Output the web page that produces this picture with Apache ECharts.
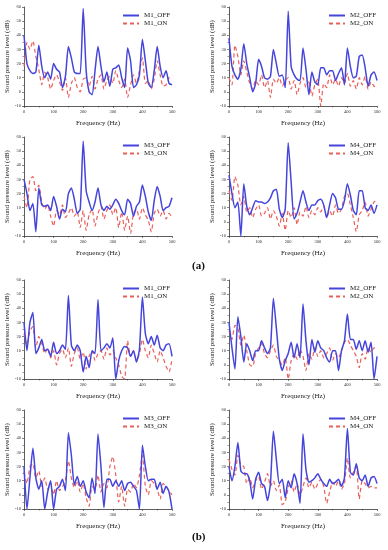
<!DOCTYPE html>
<html><head><meta charset="utf-8">
<script src="https://cdn.jsdelivr.net/npm/echarts@6/dist/echarts.min.js"></script>
<style>html,body{margin:0;padding:0;background:#fff}#c{width:388px;height:550px}</style>
</head><body><div id="c"></div>
<script>
const freq = [0,10,20,30,40,50,60,70,80,90,100,110,120,130,140,150,160,170,180,190,200,210,220,230,240,250,260,270,280,290,300,310,320,330,340,350,360,370,380,390,400,410,420,430,440,450,460,470,480,490,500];
const xTicks = ['0','100','200','300','400','500'];
const yTicks = ['-10','0','10','20','30','40','50','60'];

// (a) panels
const a_M1_OFF = [40,20,15,13,14,33,18,10,14,9,20,16,14,3,11,32,24,14,13,13,59,15,0,-2,15,32,18,7,14,4,16,17,19,10,3,31,22,3,5,12,37,22,6,3,15,32,18,10,15,6,5];
const a_M1_ON  = [18,35,30,36,25,16,5,14,10,2,8,12,7,1,10,-4,6,10,3,0,9,10,4,11,2,9,12,2,8,11,6,15,8,3,9,-4,5,12,6,15,24,6,8,2,9,22,12,4,5,10,12];
const a_M2_OFF = [38,18,12,9,16,34,20,10,0,6,23,18,10,9,11,30,20,11,12,3,57,18,12,9,8,31,16,-2,14,7,5,17,17,12,15,15,8,13,17,5,31,18,10,11,25,26,17,4,12,14,8];
const a_M2_ON  = [10,5,33,25,12,22,14,6,2,8,5,12,3,8,-4,9,6,10,4,8,10,2,8,-2,6,10,3,8,-3,5,9,-10,6,3,12,5,9,4,10,6,13,4,8,2,10,5,11,2,7,4,3];
const a_M3_OFF = [30,20,8,13,-7,24,12,11,12,8,18,11,2,9,7,20,24,16,6,9,57,22,14,8,14,24,12,8,11,9,12,16,13,8,5,16,13,4,11,14,26,18,7,1,15,25,18,8,10,11,17];
const a_M3_ON  = [18,10,30,32,22,26,14,9,12,4,-3,8,5,12,3,6,10,4,7,-4,8,-6,5,9,-3,6,11,2,8,12,5,10,-4,7,-6,4,-8,6,9,2,10,5,1,-7,6,9,4,8,2,6,3];
const a_M4_OFF = [33,20,10,14,-10,27,11,5,10,15,14,14,13,14,17,22,23,9,3,9,56,28,2,6,14,22,14,8,12,12,15,16,12,3,12,20,17,9,9,15,27,19,8,5,22,22,10,8,12,6,12];
const a_M4_ON  = [22,15,32,26,12,18,7,10,3,9,12,4,6,10,2,8,4,-3,6,-6,8,3,10,-2,7,4,11,3,8,5,10,7,11,3,8,4,12,6,9,18,20,12,3,-7,5,8,14,4,9,14,16];
// (b) panels
const b_M1_OFF = [30,10,30,37,8,12,18,10,11,6,16,8,10,14,11,49,14,10,14,10,-5,6,-2,10,8,46,10,12,15,12,19,-10,3,10,13,12,6,10,2,11,48,22,15,20,14,21,12,10,14,15,6];
const b_M1_ON  = [22,14,24,27,12,20,15,8,12,5,10,0,8,11,5,12,-1,8,12,4,9,-3,6,10,3,8,10,4,12,7,10,5,0,-8,-10,17,6,10,3,8,18,10,5,14,8,2,10,5,-1,-5,4];
const b_M2_OFF = [30,12,-3,34,20,2,15,10,3,10,10,17,12,8,12,47,26,4,-4,3,8,16,5,15,5,43,17,0,18,9,17,12,10,5,2,10,10,-4,10,17,36,18,18,11,17,10,17,9,16,-10,6];
const b_M2_ON  = [24,18,28,26,14,21,10,0,-1,8,12,15,8,5,10,14,6,3,0,5,-10,3,8,4,11,6,-4,8,4,12,6,10,5,8,12,3,8,5,10,16,18,14,10,6,-2,8,4,12,9,12,12];
const b_M3_OFF = [20,-10,12,33,12,4,10,-10,2,10,-10,4,6,11,3,44,28,7,13,6,10,2,-2,12,1,43,20,-9,11,11,6,10,6,10,3,8,9,6,3,-10,35,20,10,11,11,4,9,1,6,2,-10];
const b_M3_ON  = [16,8,20,22,12,17,6,12,4,8,0,10,3,6,10,24,12,5,10,2,8,-2,-8,6,4,14,2,8,5,20,27,14,-5,6,-8,4,2,8,5,14,28,6,0,10,8,4,-3,8,6,3,0];
const b_M4_OFF = [20,10,20,37,17,15,15,10,-3,11,16,8,6,-4,8,45,25,8,11,-2,10,5,15,8,-6,43,18,9,10,12,15,11,8,6,11,8,9,11,6,12,47,16,14,22,12,10,14,6,12,13,8];
const b_M4_ON  = [25,18,14,28,21,20,8,12,5,10,13,4,9,15,6,10,3,7,-7,-5,5,10,2,8,0,6,12,5,9,4,8,11,6,-6,2,9,6,10,4,8,26,12,16,20,-3,10,8,5,6,5,5];

const panels = [
  {id:'M1', off:a_M1_OFF, on:a_M1_ON},
  {id:'M2', off:a_M2_OFF, on:a_M2_ON},
  {id:'M3', off:a_M3_OFF, on:a_M3_ON},
  {id:'M4', off:a_M4_OFF, on:a_M4_ON},
  {id:'M1', off:b_M1_OFF, on:b_M1_ON},
  {id:'M2', off:b_M2_OFF, on:b_M2_ON},
  {id:'M3', off:b_M3_OFF, on:b_M3_ON},
  {id:'M4', off:b_M4_OFF, on:b_M4_ON}
];

// layout
const colLeft = [24, 229];
const rowTop = [7, 137, 280, 410];
const gw = 148, gh = 99;
const FONT = 'Liberation Serif';
const BLUE = '#4545dc', RED = '#e8605a';

const grid = [], xAxis = [], yAxis = [], series = [], legend = [];
panels.forEach((p, i) => {
  const c = i % 2, r = Math.floor(i / 2);
  const left = colLeft[c], top = rowTop[r];
  grid.push({left: left, top: top, width: gw, height: gh, containLabel: false});
  xAxis.push({
    type: 'value', gridIndex: i, min: 0, max: 500, interval: 100,
    name: 'Frequency (Hz)', nameLocation: 'middle', nameGap: 14,
    nameTextStyle: {fontFamily: FONT, fontSize: 7, color: '#222'},
    axisLine: {show: true, onZero: false, lineStyle: {color: '#333', width: 0.8}},
    axisTick: {show: true, length: 2, lineStyle: {color: '#333', width: 0.6}},
    minorTick: {show: true, splitNumber: 2, length: 1.5, lineStyle: {color: '#333', width: 0.5}},
    axisLabel: {fontFamily: FONT, fontSize: 4.5, color: '#333', margin: 3,
      formatter: v => xTicks[Math.round(v / 100)]},
    splitLine: {show: false}
  });
  yAxis.push({
    type: 'value', gridIndex: i, min: -10, max: 60, interval: 10,
    name: 'Sound pressure level (dB)', nameLocation: 'middle', nameGap: 13,
    nameTextStyle: {fontFamily: FONT, fontSize: 7, color: '#222'},
    axisLine: {show: true, lineStyle: {color: '#333', width: 0.8}},
    axisTick: {show: true, length: 2, lineStyle: {color: '#333', width: 0.6}},
    minorTick: {show: true, splitNumber: 2, length: 1.5, lineStyle: {color: '#333', width: 0.5}},
    axisLabel: {fontFamily: FONT, fontSize: 4.5, color: '#333', margin: 3,
      formatter: v => yTicks[Math.round((v + 10) / 10)]},
    splitLine: {show: false}
  });
  const offName = p.id + '_OFF', onName = p.id + '_ON';
  series.push({
    name: offName, type: 'line', xAxisIndex: i, yAxisIndex: i,
    data: freq.map((f, k) => [f, p.off[k]]),
    symbol: 'none', smooth: 0.2, z: 3,
    lineStyle: {color: BLUE, width: 1.5}, itemStyle: {color: BLUE}
  });
  series.push({
    name: onName, type: 'line', xAxisIndex: i, yAxisIndex: i,
    data: freq.map((f, k) => [f, p.on[k]]),
    symbol: 'none', smooth: 0.2, z: 2,
    lineStyle: {color: RED, width: 1.2, type: [4, 3]}, itemStyle: {color: RED}
  });
  legend.push({
    show: true,
    data: [offName, onName], orient: 'vertical',
    left: c === 0 ? 122 : 328, top: top + 5,
    itemWidth: 16, itemHeight: 8, itemGap: 1,
    itemStyle: {opacity: 0},
    textStyle: {fontFamily: FONT, fontSize: 7, color: '#222'},
    padding: 0, selectedMode: false
  });
});

const chart = echarts.init(document.getElementById('c'), null, {renderer: 'canvas'});
chart.setOption({
  animation: false,
  backgroundColor: '#fff',
  grid, xAxis, yAxis, series, legend,
  graphic: [
    {type: 'text', left: 192, top: 261, style: {text: '(a)', fontFamily: FONT, fontSize: 11, fontWeight: 'bold', fill: '#111'}},
    {type: 'text', left: 192, top: 532, style: {text: '(b)', fontFamily: FONT, fontSize: 11, fontWeight: 'bold', fill: '#111'}}
  ]
});
</script></body></html>
